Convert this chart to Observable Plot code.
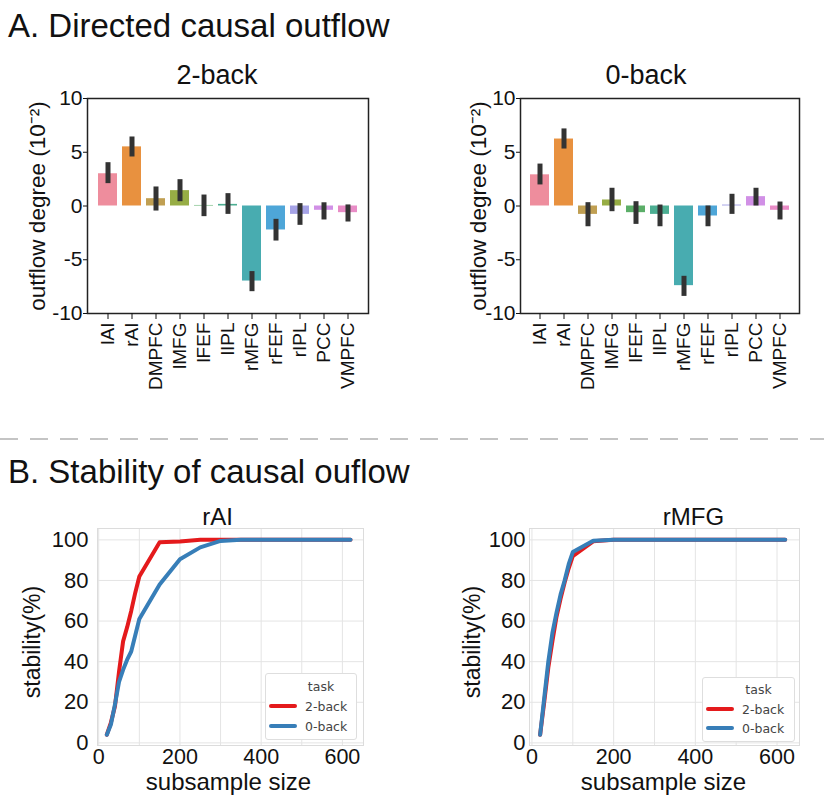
<!DOCTYPE html>
<html><head><meta charset="utf-8">
<script src="https://cdn.jsdelivr.net/npm/d3@7"></script>
<script src="https://cdn.jsdelivr.net/npm/@observablehq/plot@0.6"></script>
<style>
body{margin:0;background:#fff;font-family:"Liberation Sans",Arial,sans-serif;}
#root{position:relative;width:824px;height:796px;overflow:hidden;background:#fff;}
.abs{position:absolute;}
.head{font-size:33px;line-height:33px;color:#111;white-space:nowrap;}
.legend{position:absolute;border:1px solid #dedede;border-radius:3px;background:#fff;font-family:"DejaVu Sans",sans-serif;font-size:12.5px;color:#444;}
.legend .t{position:absolute;transform:translate(-50%,-50%);}
.legend .sw{position:absolute;height:4px;border-radius:2px;}
.legend .lb{position:absolute;transform:translateY(-50%);}
</style></head><body><div id="root"></div>
<script>
// ---- data ----
const regions = ["lAI","rAI","DMPFC","lMFG","lFEF","lIPL","rMFG","rFEF","rIPL","PCC","VMPFC"];
const barColors = ["#ee8d9d","#e8913f","#c09f52","#97ad45","#5bae68","#4cae92","#48acb0","#4ea6d8","#a6a3e6","#d190e6","#e88cc6"];
const twoBackMean = [3.0, 5.5, 0.68, 1.43, 0.05, 0.15, -6.98, -2.23, -0.78, -0.4, -0.62];
const twoBackLo   = [2.08, 4.56, -0.47, 0.4, -0.99, -0.78, -7.97, -3.26, -1.8, -1.3, -1.49];
const twoBackHi   = [4.03, 6.42, 1.77, 2.45, 1.02, 1.15, -6.1, -1.24, 0.22, 0.3, 0.1];
const zeroBackMean = [2.9, 6.23, -0.78, 0.56, -0.62, -0.78, -7.41, -0.93, 0.09, 0.87, -0.4];
const zeroBackLo   = [1.96, 5.3, -1.93, -0.53, -1.71, -1.93, -8.41, -1.93, -0.78, 0.0, -1.3];
const zeroBackHi   = [3.9, 7.17, 0.31, 1.65, 0.4, 0.09, -6.54, 0.0, 1.09, 1.65, 0.37];
const barYTicks = [10, 5, 0, -5, -10];
const barYLabel = "outflow degree (10⁻²)";

const tasks = ["2-back", "0-back"];
const taskColors = ["#e41a1c", "#377eb8"];
const sizes = [20,30,40,50,60,70,80,90,100,150,200,250,300,350,400,450,500,550,600,620];
const rAI2back  = [4,10,18,35,50,57,65,74,82,98.8,99.2,100,100,100,100,100,100,100,100,100];
const rAI0back  = [4,9,19,30,36,41,45,53,61,78,90.5,96.3,99.5,100,100,100,100,100,100,100];
const rMFG2back = [4,20,37,50,62,71,79,86,92,99.3,100,100,100,100,100,100,100,100,100,100];
const rMFG0back = [4,22,40,54,64,73,80,88,94,99.6,100,100,100,100,100,100,100,100,100,100];
const lineXTicks = [0, 200, 400, 600];
const lineXGrid = [0, 100, 200, 300, 400, 500, 600];
const lineYTicks = [0, 20, 40, 60, 80, 100];

const root = document.getElementById("root");
const FONT = "Liberation Sans, Arial, sans-serif";

function place(el, left, top) {
  const d = document.createElement("div");
  d.className = "abs"; d.style.left = left + "px"; d.style.top = top + "px";
  d.appendChild(el); root.appendChild(d); return d;
}

function barChart(title, means, lo, hi, o) {
  const data = regions.map((r, i) => ({region: r, mean: means[i], lo: lo[i], hi: hi[i]}));
  return Plot.plot({
    width: o.width, height: 350,
    marginLeft: o.ml, marginRight: o.mr, marginTop: 48, marginBottom: 87,
    style: {fontFamily: FONT, color: "#111", background: "transparent", overflow: "visible"},
    x: {type: "band", domain: regions, paddingInner: 0.2, paddingOuter: 0.33, label: null},
    y: {domain: [-10, 10], label: null},
    color: {type: "ordinal", domain: regions, range: barColors},
    marks: [
      Plot.barY(data, {x: "region", y: "mean", fill: "region"}),
      Plot.ruleX(data, {x: "region", y1: "lo", y2: "hi", stroke: "#333", strokeWidth: 5}),
      Plot.frame({stroke: "#222", strokeWidth: 1.5}),
      Plot.axisY({ticks: barYTicks, tickSize: 4, tickPadding: 1, fontSize: 21, label: null, tickFormat: d => String(d)}),
      Plot.axisX({tickRotate: -90, tickSize: 6, tickPadding: 3, fontSize: 19, label: null}),
      Plot.text([title], {frameAnchor: "top", lineAnchor: "middle", textAnchor: "middle", dy: -23, dx: o.tdx, fontSize: 27, fill: "#111"}),
      Plot.text([barYLabel], {frameAnchor: "left", textAnchor: "middle", lineAnchor: "middle", dx: o.ldx, rotate: -90, fontSize: 22.5, fill: "#111"})
    ]
  });
}

function lineChart(title, s2, s0, o) {
  const data = [
    ...sizes.map((x, i) => ({task: "2-back", x, y: s2[i]})),
    ...sizes.map((x, i) => ({task: "0-back", x, y: s0[i]}))
  ];
  return Plot.plot({
    width: o.width, height: 306,
    marginLeft: o.ml, marginRight: o.mr, marginTop: 38, marginBottom: 51,
    style: {fontFamily: FONT, color: "#111", background: "transparent", overflow: "visible"},
    x: {domain: o.xdom, label: null},
    y: {domain: [-1.3, 105.6], label: null},
    color: {domain: tasks, range: taskColors},
    marks: [
      Plot.gridX({ticks: lineXGrid, stroke: "#e4e4e4", strokeOpacity: 1}),
      Plot.gridY({ticks: lineYTicks, stroke: "#e4e4e4", strokeOpacity: 1}),
      Plot.frame({stroke: "#dcdcdc"}),
      Plot.lineY(data, {x: "x", y: "y", stroke: "task", z: "task", strokeWidth: 4, strokeLinejoin: "round", strokeLinecap: "round"}),
      Plot.axisX({ticks: lineXTicks, tickSize: 0, tickPadding: 3, fontSize: 21.5, label: null}),
      Plot.axisY({ticks: lineYTicks, tickSize: 0, tickPadding: o.ytp, fontSize: 22, label: null}),
      Plot.text([title], {frameAnchor: "top", lineAnchor: "middle", textAnchor: "middle", dy: -11, dx: o.tdx, fontSize: 24, fill: "#111"}),
      Plot.text(["subsample size"], {frameAnchor: "bottom", lineAnchor: "middle", textAnchor: "middle", dy: 37, dx: o.xdx, fontSize: 24, fill: "#111"}),
      Plot.text(["stability(%)"], {frameAnchor: "left", lineAnchor: "middle", textAnchor: "middle", dx: o.ldx, dy: 5, rotate: -90, fontSize: 23, fill: "#111"})
    ]
  });
}

function legend(left, top, w, h, y1, y2) {
  const d = document.createElement("div");
  d.className = "legend";
  d.style.left = left + "px"; d.style.top = top + "px"; d.style.width = w + "px"; d.style.height = h + "px";
  const t = document.createElement("div"); t.className = "t"; t.textContent = "task";
  t.style.left = (w / 2 + 10) + "px"; t.style.top = (h * 0.18) + "px"; d.appendChild(t);
  [[tasks[0], taskColors[0], y1], [tasks[1], taskColors[1], y2]].forEach(([name, col, y]) => {
    const s = document.createElement("div"); s.className = "sw";
    s.style.left = "3px"; s.style.width = "28px"; s.style.top = (y - 2) + "px"; s.style.background = col;
    const l = document.createElement("div"); l.className = "lb"; l.textContent = name;
    l.style.left = "39px"; l.style.top = y + "px";
    d.appendChild(s); d.appendChild(l);
  });
  root.appendChild(d);
}

// headers
const hA = document.createElement("div"); hA.className = "head"; hA.textContent = "A. Directed causal outflow";
place(hA, 8, 9);
const hB = document.createElement("div"); hB.className = "head"; hB.textContent = "B. Stability of causal ouflow";
place(hB, 8, 455);

// dashed separator
const ns = "http://www.w3.org/2000/svg";
const sep = document.createElementNS(ns, "svg");
sep.setAttribute("width", 824); sep.setAttribute("height", 6);
const ln = document.createElementNS(ns, "line");
ln.setAttribute("x1", 0); ln.setAttribute("x2", 824); ln.setAttribute("y1", 3); ln.setAttribute("y2", 3);
ln.setAttribute("stroke", "#c4c4c4"); ln.setAttribute("stroke-width", 2); ln.setAttribute("stroke-dasharray", "18 12");
sep.appendChild(ln);
place(sep, 0, 428);

// bar charts
place(barChart("2-back", twoBackMean, twoBackLo, twoBackHi, {width: 410, ml: 87, mr: 42, tdx: -11, ldx: -50}), 0, 50);
place(barChart("0-back", zeroBackMean, zeroBackLo, zeroBackHi, {width: 414, ml: 110, mr: 25, tdx: -14, ldx: -42}), 410, 50);

// line charts
place(lineChart("rAI", rAI2back, rAI0back, {width: 410, ml: 97, mr: 47, xdom: [-3, 652], ytp: 9, tdx: -13, xdx: -2, ldx: -65}), 0, 490);
place(lineChart("rMFG", rMFG2back, rMFG0back, {width: 414, ml: 119, mr: 25, xdom: [-6, 655], ytp: 4, tdx: 29, xdx: -1, ldx: -57}), 410, 490);

// legends
legend(265, 673, 90, 65, 32, 52);
legend(702, 677, 91, 63, 31, 50);
</script></body></html>
